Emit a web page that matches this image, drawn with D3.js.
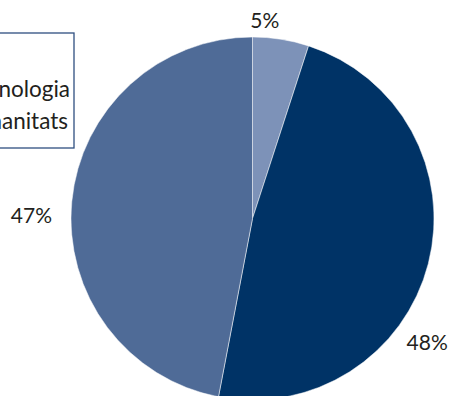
<!DOCTYPE html>
<html>
<head>
<meta charset="utf-8">
<script src="https://cdn.jsdelivr.net/npm/d3@7"></script>
<style>
  html, body { margin: 0; padding: 0; background: #fff; overflow: hidden; }
  svg { display: block; }
  text { font-family: Lato, "Open Sans", sans-serif; fill: #231f20; }
</style>
</head>
<body>
<svg id="chart" width="452" height="396"></svg>
<script>
// ---- data ----
const categories = ["Altres", "Ciència i Tecnologia", "Arts i Humanitats"];
const values = [5, 48, 47];
const valueLabels = ["5%", "48%", "47%"];
const colors = ["#7d92b8", "#003366", "#4f6b97"];

// ---- layout ----
const W = 452, H = 396;
const cx = 252.5, cy = 218.5, R = 181.5;
const labelR = 200;
const labelNudge = [[-19, -1], [-19, 73], [-22, 15]];

const svg = d3.select("#chart");

const pie = d3.pie().sort(null).value(d => d)(values);
const arc = d3.arc().innerRadius(0).outerRadius(R);
const labelArc = d3.arc().innerRadius(labelR).outerRadius(labelR);

const g = svg.append("g").attr("transform", `translate(${cx},${cy})`);
g.selectAll("path.slice")
  .data(pie)
  .join("path")
  .attr("class", "slice")
  .attr("d", arc)
  .attr("fill", (d, i) => colors[i])
  .attr("stroke", "#ffffff")
  .attr("stroke-width", 0.5);

g.selectAll("text.val")
  .data(pie)
  .join("text")
  .attr("class", "val")
  .attr("x", (d, i) => labelArc.centroid(d)[0] + labelNudge[i][0])
  .attr("y", (d, i) => labelArc.centroid(d)[1] + labelNudge[i][1])
  .attr("text-anchor", "middle")
  .attr("dominant-baseline", "central")
  .style("font-size", "21px")
  .text((d, i) => valueLabels[i]);

// ---- legend (partially outside the left edge, as in the reference) ----
const leg = svg.append("g");
leg.append("rect")
  .attr("x", -200).attr("y", 33)
  .attr("width", 274).attr("height", 115)
  .attr("fill", "#fff")
  .attr("stroke", "#2f4f80")
  .attr("stroke-width", 1.3);

const rowY = [56, 88, 120];
const items = leg.selectAll("g.item")
  .data(categories)
  .join("g")
  .attr("class", "item");
const texts = items.append("text")
  .attr("y", (d, i) => rowY[i])
  .attr("dominant-baseline", "central")
  .style("font-size", "22.5px")
  .text(d => d);
// row ends: the second label ends at 70, the third at 68; first starts with the second
const nodes = texts.nodes();
const w2 = nodes[1].getComputedTextLength();
const w3 = nodes[2].getComputedTextLength();
const startX = [70 - w2, 70 - w2, 68 - w3];
texts.attr("x", (d, i) => startX[i]);
items.append("rect")
  .attr("x", (d, i) => startX[i] - 22).attr("y", (d, i) => rowY[i] - 7)
  .attr("width", 14).attr("height", 14)
  .attr("fill", (d, i) => colors[i]);
</script>
</body>
</html>
